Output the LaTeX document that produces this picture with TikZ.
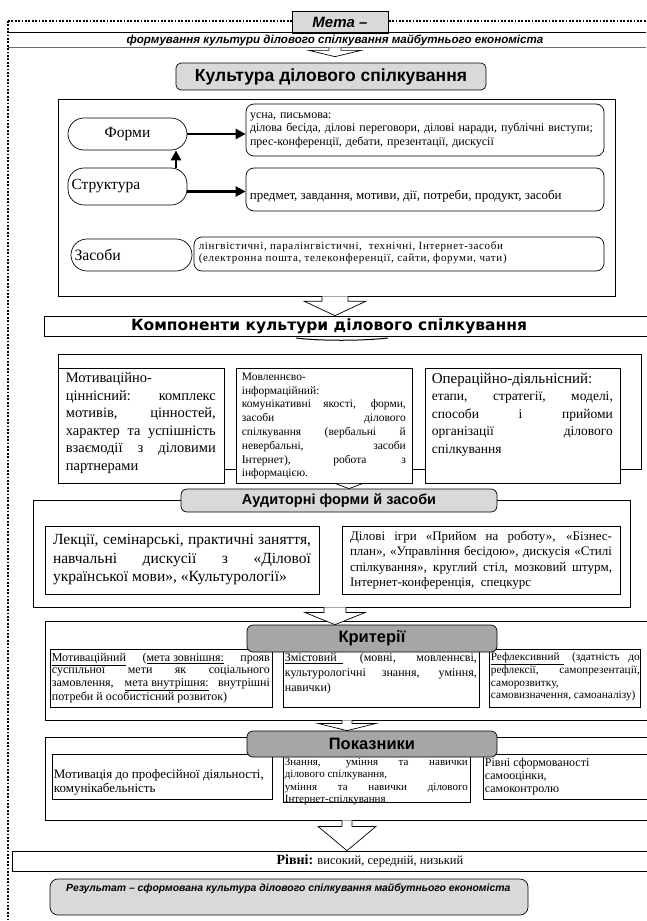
\documentclass[tikz,border=0pt]{standalone}
\usepackage{fontspec}
\setmainfont{Liberation Serif}
\setsansfont{Liberation Sans}
\newfontfamily\heavyfont{DejaVu Sans}
\newfontfamily\spacedfont{Liberation Serif}[LetterSpace=6]
\usetikzlibrary{arrows.meta,calc}
\hyphenpenalty=10000
\exhyphenpenalty=10000
\tolerance=9999
\definecolor{lgray}{HTML}{D9D9D9}
\definecolor{mgray}{HTML}{A6A6A6}
\newcommand\fs[2]{\fontsize{#1}{#2}\selectfont}
\newcommand\mybox[7]{\node[#6, minimum width={(#4)-(#2)}, minimum height={(#5)-(#3)}] (#1) at ({((#2)+(#4))/2},{((#3)+(#5))/2}) {#7};}
% from, to, axis, shaft half, head half, shaft fraction, tip gap
\newcommand\blockarrow[7]{%
  \draw[arrowbox] let \p1=(#1.south -| #3), \p2=(#2.north -| #3), \n1={#6*(\y1-\y2-#7)} in
   (\x1-#4,\y1) -- (\x1-#4,\y1-\n1) -- (\x1-#5,\y1-\n1) -- (\x1,\y2+#7) -- (\x1+#5,\y1-\n1) -- (\x1+#4,\y1-\n1) -- (\x1+#4,\y1);}
\tikzset{
  box/.style={draw, line width=0.7pt, inner sep=0pt, fill=white},
  pill/.style={box, rounded corners=16pt},
  rbox/.style={box, rounded corners=8pt},
  hdr/.style={box, rounded corners=6pt, font=\sffamily\bfseries\fs{#1}{18}},
  txt/.style={inner sep=0pt, anchor=north west, align=justify},
  thickarrow/.style={line width=2.6pt, -{Triangle[length=10pt,width=10pt]}},
  arrowbox/.style={draw, line width=0.7pt, fill=white, line join=miter},
  dotline/.style={line width=1.7pt, dash pattern=on 1.7pt off 1.7pt},
}
\begin{document}
\begin{tikzpicture}[x=1pt,y=-1pt]
\useasboundingbox (0,0) rectangle (646,921);
\fill[white] (0,0) rectangle (646,921);
\coordinate (ax) at (335,0);
\coordinate (ax2) at (347,0);
\coordinate (ax3) at (349,0);
\coordinate (upx) at (176,0);

% ---- top
\draw[dotline] (8,21) -- (646,21);
\draw[dotline] (8,21) -- (8,921);
\mybox{meta}{292}{11}{388}{33}{box, fill=lgray, font=\sffamily\bfseries\itshape\fs{15}{17}}{Мета –}
\mybox{band}{8}{33}{646}{47.5}{inner sep=0pt}{}
\draw[line width=0.7pt] (band.north west) -- (band.north east);
\draw[line width=1.1pt, black!60] (band.south west) -- (band.south east);
\node[inner sep=0pt, font=\sffamily\bfseries\itshape\fs{11.6}{13}] (goal) at (335,40.5) {формування культури ділового спілкування майбутнього економіста};
\mybox{kult}{176}{63}{486}{90}{box, rounded corners=5pt, fill=lgray, font=\sffamily\bfseries\fs{17.5}{19}}{Культура ділового спілкування}
\blockarrow{band}{kult}{ax}{6}{26}{0.3}{6}

% ---- big box 1
\mybox{big1}{58}{99}{615}{296}{box}{}
\mybox{formy}{68}{118}{187}{150}{pill, font=\fs{15.5}{17}}{Форми}
\mybox{formsbox}{246}{104}{604}{156}{rbox, align=left, text width=350, font=\fs{12}{13.5}}{усна, письмова:\\ділова бесіда, ділові переговори, ділові наради, публічні виступи;\\прес-конференції, дебати, презентації, дискусії}
\mybox{strukt}{68}{168}{187}{205}{pill, align=left, text width=112, font=\fs{15.5}{17}}{Структура}
\mybox{box2}{246}{168}{604}{211}{rbox}{}
\node[inner sep=0pt, anchor=west, font=\fs{13}{14}] (box2t) at ($(box2.west)+(4,7)$) {предмет, завдання, мотиви, дії, потреби, продукт, засоби};
\mybox{zasoby}{71}{239}{192}{271}{pill, align=left, text width=114, font=\fs{15.8}{17}}{Засоби}
\mybox{box3}{194}{237}{604}{271}{rbox}{}
\node[txt, align=left, font=\spacedfont\fs{11}{11.5}] (box3t) at ($(box3.north west)+(5,5)$) {лінгвістичні, паралінгвістичні,\ \ технічні, Інтернет-засоби\\(електронна пошта, телеконференції, сайти, форуми, чати)};
\draw[thickarrow] (formy.east) -- (formy.east -| formsbox.west);
\draw[thickarrow] (strukt.north -| upx) -- (formy.south -| upx);
\coordinate (s1) at ($(strukt.east)+(0,5)$);
\draw[thickarrow] (s1) -- (s1 -| box2.west);

% ---- components
\mybox{komp}{44}{316}{660}{336}{box}{}
\node[inner sep=0pt, font=\heavyfont\bfseries\fs{15.5}{17}] (kompt) at (329,326.5) {Компоненти культури ділового спілкування};
\blockarrow{big1}{komp}{ax}{13}{31}{0.25}{0}
\draw[line width=1pt] (296,338) .. controls (320,341) and (362,341) .. (388,338);

\mybox{compouter}{58}{354}{641}{469}{box}{}
\mybox{compA}{58}{368}{224}{483}{box}{}
\mybox{compB}{236}{368}{412}{483}{box}{}
\mybox{compC}{425}{368}{620}{483}{box}{}
\node[txt, text width=150, font=\fs{14.5}{17.5}] (compAt) at ($(compA.north west)+(8,5)$) {Мотиваційно-\newline ціннісний: комплекс\linebreak мотивів, цінностей,\linebreak характер та успішність\linebreak взаємодії з діловими\linebreak партнерами};
\node[txt, text width=164, font=\fs{11.5}{13.8}] (compBt) at ($(compB.north west)+(6,5)$) {Мовленнєво-\newline інформаційний:\newline комунікативні якості, форми,\linebreak засоби ділового\linebreak спілкування (вербальні й\linebreak невербальні, засоби\linebreak Інтернет), робота з\linebreak інформацією.};
\node[txt, text width=181, font=\fs{13.5}{17.5}] (compCt) at ($(compC.north west)+(7,5)$) {{\fs{15}{17.5}Операційно-діяльнісний:}\newline етапи, стратегії, моделі,\linebreak способи і прийоми\linebreak організації ділового\linebreak спілкування};

% ---- auditorni
\mybox{audouter}{33}{500}{630}{607}{box}{}
\mybox{audh}{181}{489}{497}{512}{hdr=14.5, fill=lgray}{Аудиторні форми й засоби}
\blockarrow{compB}{audh}{ax3}{0}{14}{0}{0}
\mybox{audL}{45}{526}{319}{594}{box, text width=258, align=justify, font=\fs{15.5}{18.5}}{Лекції, семінарські, практичні заняття,\linebreak навчальні дискусії з «Ділової\linebreak української мови», «Культурології»}
\mybox{audR}{342}{526}{620}{594}{box, text width=262, align=justify, font=\fs{13}{15.5}}{Ділові ігри «Прийом на роботу», «Бізнес-\linebreak план», «Управління бесідою», дискусія «Стилі\linebreak спілкування», круглий стіл, мозковий штурм,\linebreak Інтернет-конференція,\ \ спецкурс}

% ---- criteria
\mybox{kouter}{45}{621}{660}{720}{box}{}
\mybox{kA}{50}{649}{272}{707}{box}{}
\mybox{kB}{283}{649}{479}{707}{box}{}
\mybox{kC}{489}{649}{640}{707}{box}{}
\node[txt, text width=218, font=\fs{12}{12.7}] (kAt) at ($(kA.north west)+(2,4)$) {\underline{Мотиваційний} (\underline{мета зовнішня:} прояв\linebreak суспільної мети як соціального\linebreak замовлення, \underline{мета внутрішня:} внутрішні\linebreak потреби й особистісний розвиток)};
\node[txt, text width=192, font=\fs{12}{15}] (kBt) at ($(kB.north west)+(2,4)$) {\underline{Змістовий\kern6pt} (мовні, мовленнєві,\linebreak культурологічні знання, уміння,\linebreak навички)};
\node[txt, text width=149, font=\fs{11.3}{12.7}] (kCt) at ($(kC.north west)+(2,4)$) {\underline{Рефлексивний\kern4pt} (здатність до\linebreak рефлексії, самопрезентації,\linebreak саморозвитку,\newline самовизначення, самоаналізу)};
\mybox{kh}{247}{625}{497}{652}{hdr=16.5, fill=mgray}{Критерії}
\blockarrow{audouter}{kh}{ax}{11}{30}{0.3}{0}

% ---- indicators
\mybox{pouter}{45}{737}{660}{820}{box}{}
\mybox{pA}{52}{754}{272}{799}{box}{}
\mybox{pB}{283}{754}{470}{802}{box}{}
\mybox{pC}{483}{754}{660}{799}{box}{}
\node[inner sep=0pt, anchor=west, align=left, font=\fs{13}{14}] (pAt) at ($(pA.west)+(2,6)$) {Мотивація до професійної діяльності,\\комунікабельність};
\node[txt, text width=183, font=\fs{11}{12.6}] (pBt) at ($(pB.north west)+(2,4)$) {Знання, уміння та навички\linebreak ділового спілкування,\newline уміння та навички ділового\linebreak Інтернет-спілкування};
\node[txt, align=left, font=\fs{12}{13}] (pCt) at ($(pC.north west)+(2,4)$) {Рівні сформованості\\самооцінки,\\самоконтролю};
\mybox{ph}{247}{731}{497}{757}{hdr=16.5, fill=mgray}{Показники}
\blockarrow{kouter}{ph}{ax2}{5}{29}{0.3}{0}

% ---- levels and result
\mybox{rivni}{12}{851}{660}{871}{box}{}
\node[inner sep=0pt, font=\fs{12.5}{14}] (rivnit) at (370,861) {{\fs{14}{14}\bfseries Рівні:} високий, середній, низький};
\blockarrow{pouter}{rivni}{ax2}{5}{29}{0.2}{0}
\mybox{res}{50}{879}{528}{915}{box, rounded corners=8pt, fill=lgray}{}
\node[inner sep=0pt, anchor=west, font=\sffamily\bfseries\itshape\fs{10.4}{12}] (rest) at (66,889) {Результат – сформована культура ділового спілкування майбутнього економіста};
\end{tikzpicture}
\end{document}
